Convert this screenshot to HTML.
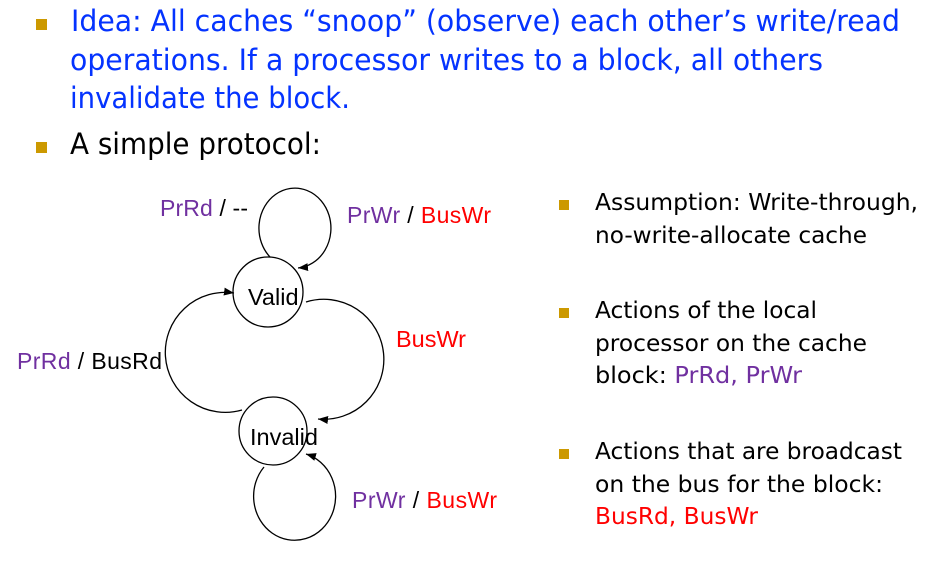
<!DOCTYPE html>
<html>
<head>
<meta charset="utf-8">
<style>
  html, body { margin:0; padding:0; background:#fff; }
  body { width:940px; height:568px; overflow:hidden; }
  svg { display:block; }
  .t { font-family: "DejaVu Sans", "Liberation Sans", sans-serif; }
  .d { font-family: "Liberation Sans", Arial, sans-serif; font-size:23px; }
  .s { font-family: "Liberation Sans", Arial, sans-serif; font-size:23.5px; }
  .blue { fill:#0433FF; }
  .pur { fill:#7030A0; }
  .red { fill:#FF0000; }
  .blk { fill:#000; }
</style>
</head>
<body>
<svg width="940" height="568" viewBox="0 0 940 568" xmlns="http://www.w3.org/2000/svg">
  <defs>
    <marker id="ah" markerUnits="userSpaceOnUse" markerWidth="12" markerHeight="10" refX="10" refY="5" orient="auto">
      <path d="M0,1 L10,5 L0,9 Z" fill="#000"/>
    </marker>
  </defs>

  <!-- Top bullets -->
  <rect x="36" y="19" width="11" height="11" fill="#CC9900"/>
  <rect x="36" y="142" width="11" height="11" fill="#CC9900"/>

  <text class="t blue" x="71" y="31" font-size="29" textLength="829" lengthAdjust="spacingAndGlyphs">Idea: All caches “snoop” (observe) each other’s write/read</text>
  <text class="t blue" x="70" y="70" font-size="29" textLength="753" lengthAdjust="spacingAndGlyphs">operations. If a processor writes to a block, all others</text>
  <text class="t blue" x="70" y="108" font-size="29" textLength="280" lengthAdjust="spacingAndGlyphs">invalidate the block.</text>
  <text class="t blk" x="70" y="154" font-size="29" textLength="251" lengthAdjust="spacingAndGlyphs">A simple protocol:</text>

  <!-- Right column bullets -->
  <rect x="559" y="200" width="10" height="10" fill="#CC9900"/>
  <rect x="559" y="308" width="10" height="10" fill="#CC9900"/>
  <rect x="559" y="449" width="10" height="10" fill="#CC9900"/>

  <text class="t blk" x="595" y="210" font-size="23" textLength="323" lengthAdjust="spacingAndGlyphs">Assumption: Write-through,</text>
  <text class="t blk" x="595" y="243" font-size="23" textLength="272" lengthAdjust="spacingAndGlyphs">no-write-allocate cache</text>

  <text class="t blk" x="595" y="318" font-size="23" textLength="222" lengthAdjust="spacingAndGlyphs">Actions of the local</text>
  <text class="t blk" x="595" y="351" font-size="23" textLength="272" lengthAdjust="spacingAndGlyphs">processor on the cache</text>
  <text class="t" x="595" y="383" font-size="23" textLength="207" lengthAdjust="spacingAndGlyphs"><tspan class="blk">block: </tspan><tspan class="pur">PrRd, PrWr</tspan></text>

  <text class="t blk" x="595" y="459" font-size="23" textLength="307" lengthAdjust="spacingAndGlyphs">Actions that are broadcast</text>
  <text class="t blk" x="595" y="492" font-size="23" textLength="288" lengthAdjust="spacingAndGlyphs">on the bus for the block:</text>
  <text class="t red" x="595" y="524" font-size="23" textLength="163" lengthAdjust="spacingAndGlyphs">BusRd, BusWr</text>

  <!-- Diagram -->
  <g fill="none" stroke="#000" stroke-width="1.3">
    <circle cx="268" cy="292" r="35"/>
    <circle cx="273" cy="431" r="34"/>
    <path d="M 270 257 A 36 40 0 1 1 298 268" marker-end="url(#ah)"/>
    <path d="M 306 302 A 60 60 0 1 1 318 419" marker-end="url(#ah)"/>
    <path d="M 242 410 A 60 60 0 1 1 234 293" marker-end="url(#ah)"/>
    <path d="M 264 467 A 41 44 0 1 0 306 454" marker-end="url(#ah)"/>
  </g>

  <text class="s blk" x="248" y="305">Valid</text>
  <text class="s blk" x="250" y="445">Invalid</text>

  <text class="d" x="160" y="216" textLength="88" lengthAdjust="spacing"><tspan class="pur">PrRd</tspan><tspan class="blk"> / --</tspan></text>
  <text class="d" x="347" y="223" textLength="144" lengthAdjust="spacing"><tspan class="pur">PrWr</tspan><tspan class="blk"> / </tspan><tspan class="red">BusWr</tspan></text>
  <text class="d red" x="396" y="347" textLength="70" lengthAdjust="spacingAndGlyphs">BusWr</text>
  <text class="d" x="17" y="369" textLength="145" lengthAdjust="spacing"><tspan class="pur">PrRd</tspan><tspan class="blk"> / BusRd</tspan></text>
  <text class="d" x="352" y="508" textLength="145" lengthAdjust="spacing"><tspan class="pur">PrWr</tspan><tspan class="blk"> / </tspan><tspan class="red">BusWr</tspan></text>
</svg>
</body>
</html>
